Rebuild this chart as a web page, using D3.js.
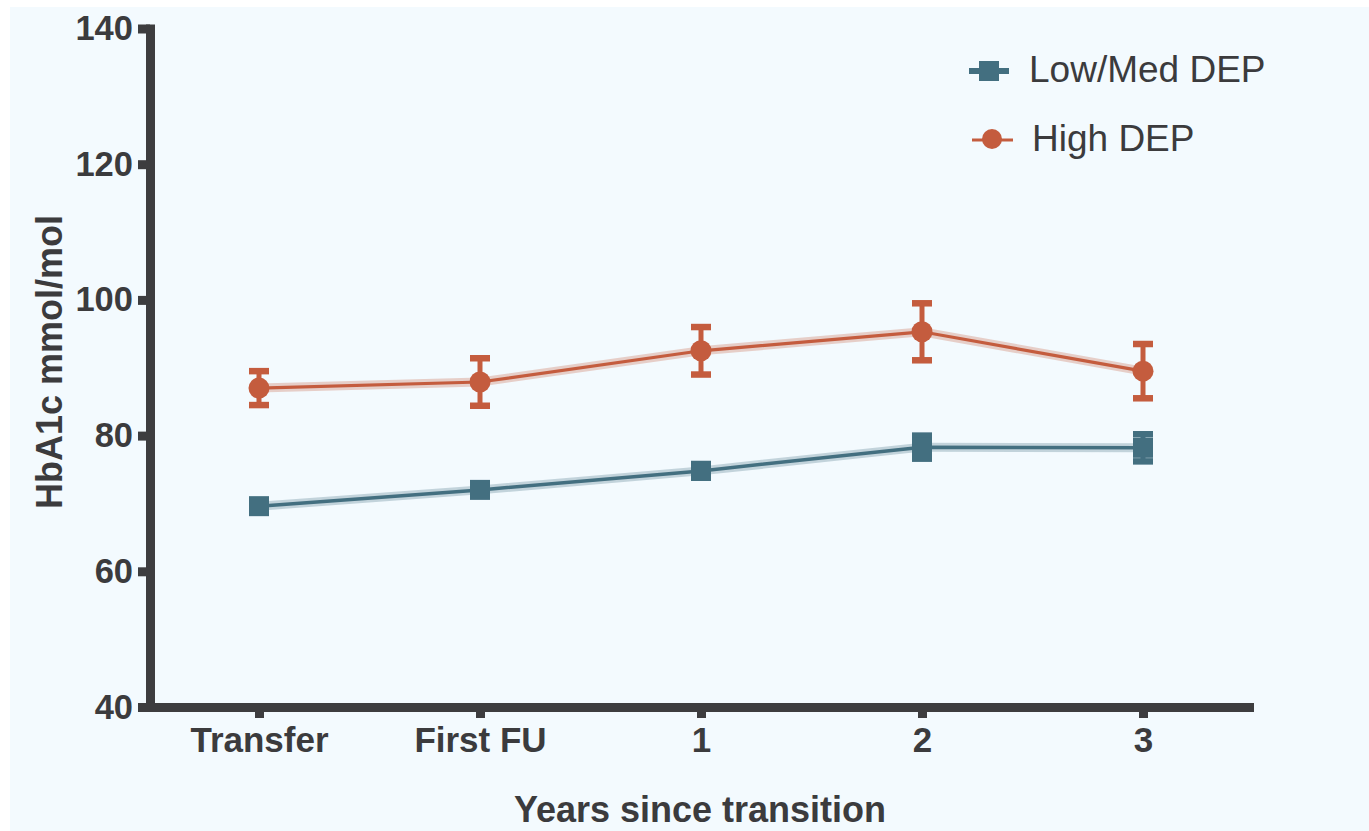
<!DOCTYPE html>
<html>
<head>
<meta charset="utf-8">
<script src="https://cdn.jsdelivr.net/npm/d3@7"></script>
<style>
  html, body { margin: 0; padding: 0; background: #ffffff; }
  svg { display: block; }
  text { font-family: "Liberation Sans", Arial, Helvetica, sans-serif; fill: #3b3b3d; }
</style>
</head>
<body>
<svg id="chart" width="1369" height="831"></svg>
<script>
// HbA1c by time since transition, split by deprivation group (mean ± SEM)
const categories = ["Transfer", "First FU", "1", "2", "3"];
const seriesNames = ["Low/Med DEP", "High DEP"];
const lowMedMean = [69.6, 72.0, 74.8, 78.3, 78.2];
const lowMedErr  = [0.8, 0.8, 1.0, 1.7, 2.0];
const highMean   = [87.0, 87.9, 92.5, 95.3, 89.5];
const highErr    = [2.5, 3.5, 3.5, 4.2, 4.0];
const yTicks = [40, 60, 80, 100, 120, 140];
const yTitle = "HbA1c mmol/mol";
const xTitle = "Years since transition";

const teal = "#436f80";
const rust = "#c45c3e";
const axisColor = "#3d3d3f";

const svg = d3.select("#chart");

// panel background
svg.append("rect")
  .attr("x", 10).attr("y", 7)
  .attr("width", 1369 - 10).attr("height", 831 - 7)
  .attr("fill", "#f3fafe");

const x = d3.scalePoint().domain(categories).range([148.5, 1253.5]).padding(0.5);
const y = d3.scaleLinear().domain([40, 140]).range([707, 28.5]);

const series = [
  { name: seriesNames[0], mean: lowMedMean, err: lowMedErr, color: teal, shape: "square", core: 3.5 },
  { name: seriesNames[1], mean: highMean, err: highErr, color: rust, shape: "circle", core: 3.2 }
];

// axes
const yAxis = svg.append("g")
  .attr("transform", "translate(150,0)")
  .call(d3.axisLeft(y).tickValues(yTicks).tickSize(12).tickSizeOuter(0).tickPadding(5));
yAxis.select(".domain").attr("stroke", axisColor).attr("stroke-width", 9).attr("stroke-linecap", "square");
yAxis.selectAll(".tick line").attr("stroke", axisColor).attr("stroke-width", 9);
yAxis.selectAll(".tick text")
  .attr("font-size", 34.5).attr("font-weight", "bold").attr("fill", axisColor)
  .attr("font-family", "Liberation Sans, Arial, sans-serif");

const xAxis = svg.append("g")
  .attr("transform", "translate(0,707)")
  .call(d3.axisBottom(x).tickSize(11).tickSizeOuter(0).tickPadding(9));
xAxis.select(".domain").attr("stroke", axisColor).attr("stroke-width", 9);
xAxis.selectAll(".tick line").attr("stroke", axisColor).attr("stroke-width", 9);
xAxis.selectAll(".tick text")
  .attr("font-size", 35).attr("font-weight", "bold").attr("fill", axisColor)
  .attr("font-family", "Liberation Sans, Arial, sans-serif");

// axis titles
svg.append("text")
  .attr("transform", "translate(62,362) rotate(-90)")
  .attr("text-anchor", "middle")
  .attr("font-size", 36).attr("font-weight", "bold")
  .text(yTitle);

svg.append("text")
  .attr("x", 700).attr("y", 822)
  .attr("text-anchor", "middle")
  .attr("font-size", 36).attr("font-weight", "bold")
  .text(xTitle);

const line = d3.line()
  .x((d, i) => x(categories[i]))
  .y(d => y(d));

series.forEach(s => {
  const g = svg.append("g");
  // soft edge under the connecting line
  g.append("path")
    .attr("d", line(s.mean))
    .attr("fill", "none")
    .attr("stroke", s.color)
    .attr("stroke-opacity", 0.28)
    .attr("stroke-width", 9);
  g.append("path")
    .attr("d", line(s.mean))
    .attr("fill", "none")
    .attr("stroke", s.color)
    .attr("stroke-width", s.core);

  // error bars
  const eb = g.selectAll(".eb").data(s.mean).join("g").attr("class", "eb");
  eb.append("line")
    .attr("x1", (d, i) => x(categories[i])).attr("x2", (d, i) => x(categories[i]))
    .attr("y1", (d, i) => y(d + s.err[i])).attr("y2", (d, i) => y(d - s.err[i]))
    .attr("stroke", s.color).attr("stroke-width", 5);
  [1, -1].forEach(sign => {
    eb.append("line")
      .attr("x1", (d, i) => x(categories[i]) - 10).attr("x2", (d, i) => x(categories[i]) + 10)
      .attr("y1", (d, i) => y(d + sign * s.err[i])).attr("y2", (d, i) => y(d + sign * s.err[i]))
      .attr("stroke", s.color).attr("stroke-width", 6.5);
  });

  // markers
  if (s.shape === "square") {
    g.selectAll(".pt").data(s.mean).join("rect").attr("class", "pt")
      .attr("x", (d, i) => x(categories[i]) - 10)
      .attr("y", d => y(d) - 10)
      .attr("width", 20).attr("height", 20)
      .attr("fill", s.color);
  } else {
    g.selectAll(".pt").data(s.mean).join("circle").attr("class", "pt")
      .attr("cx", (d, i) => x(categories[i]))
      .attr("cy", d => y(d))
      .attr("r", 10.5)
      .attr("fill", s.color);
  }
});

// legend
const legend = svg.append("g");
const lg0 = legend.append("g");
lg0.append("line").attr("x1", 969).attr("x2", 1009).attr("y1", 71).attr("y2", 71)
  .attr("stroke", teal).attr("stroke-width", 6);
lg0.append("rect").attr("x", 979).attr("y", 61).attr("width", 20).attr("height", 20).attr("fill", teal);
lg0.append("text").attr("x", 1029).attr("y", 82).attr("font-size", 37).text(seriesNames[0]);

const lg1 = legend.append("g");
lg1.append("line").attr("x1", 972).attr("x2", 1013).attr("y1", 140).attr("y2", 140)
  .attr("stroke", rust).attr("stroke-width", 3);
lg1.append("circle").attr("cx", 992).attr("cy", 139).attr("r", 10).attr("fill", rust);
lg1.append("text").attr("x", 1032).attr("y", 151).attr("font-size", 37).text(seriesNames[1]);
</script>
</body>
</html>
